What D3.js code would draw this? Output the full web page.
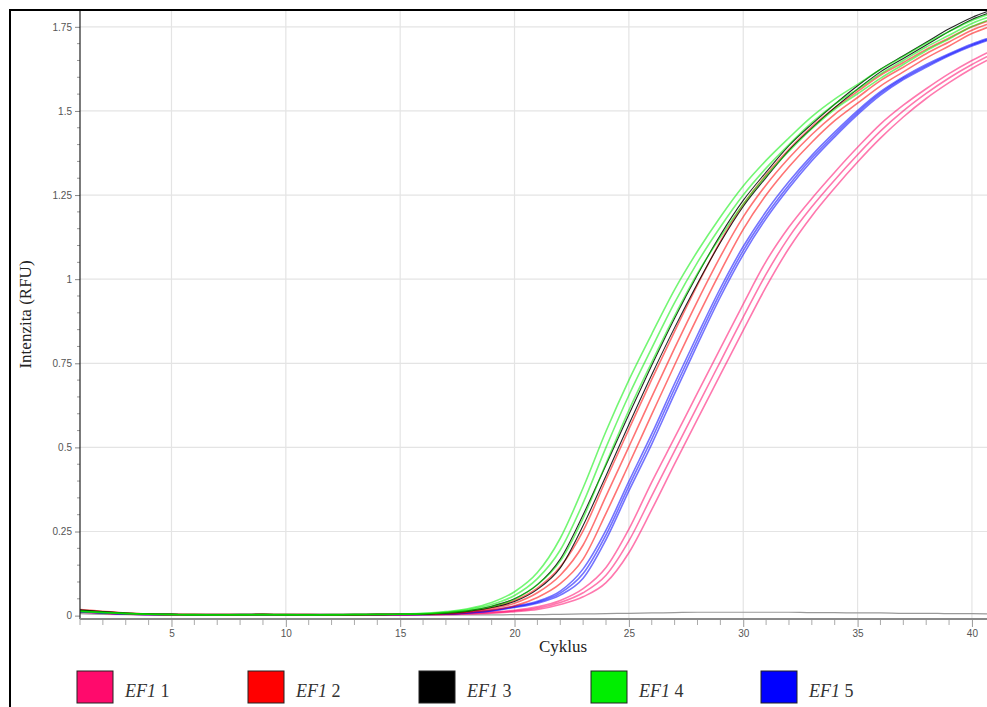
<!DOCTYPE html>
<html>
<head>
<meta charset="utf-8">
<script src="https://cdn.jsdelivr.net/npm/d3@7/dist/d3.min.js"></script>
<style>
  html, body { margin: 0; padding: 0; background: #fff; }
  svg { display: block; }
</style>
</head>
<body>
<svg id="chart" width="987" height="707"></svg>
<script>
// Amplification cycles
const cycles = [1,2,3,4,5,6,7,8,9,10,11,12,13,14,15,16,17,18,19,20,21,22,23,24,25,26,27,28,29,30,31,32,33,34,35,36,37,38,39,40,41];

// Fluorescence (RFU) per replicate, one array per well, grouped by sample
const ef1_1 = [
  [0.012,0.008,0.005,0.004,0.003,0.003,0.003,0.003,0.003,0.003,0.003,0.003,0.003,0.003,0.003,0.004,0.005,0.007,0.011,0.016,0.026,0.045,0.080,0.143,0.257,0.397,0.529,0.662,0.794,0.926,1.053,1.155,1.240,1.318,1.392,1.461,1.517,1.566,1.611,1.650,1.684],
  [0.011,0.007,0.005,0.003,0.003,0.002,0.002,0.002,0.003,0.002,0.002,0.002,0.002,0.003,0.003,0.003,0.004,0.006,0.009,0.014,0.022,0.039,0.068,0.120,0.222,0.356,0.490,0.623,0.755,0.887,1.015,1.125,1.215,1.295,1.370,1.440,1.500,1.552,1.598,1.638,1.673],
  [0.010,0.007,0.004,0.003,0.002,0.002,0.002,0.002,0.002,0.002,0.002,0.002,0.002,0.002,0.003,0.003,0.003,0.005,0.007,0.012,0.018,0.033,0.056,0.098,0.187,0.315,0.451,0.584,0.716,0.848,0.977,1.092,1.188,1.271,1.348,1.419,1.482,1.537,1.584,1.626,1.662]
];
const ef1_2 = [
  [0.018,0.013,0.008,0.005,0.004,0.003,0.003,0.003,0.004,0.003,0.003,0.003,0.003,0.004,0.004,0.005,0.009,0.014,0.025,0.045,0.082,0.145,0.252,0.404,0.554,0.702,0.845,0.983,1.112,1.222,1.310,1.386,1.453,1.509,1.558,1.606,1.644,1.683,1.717,1.750,1.774],
  [0.016,0.011,0.007,0.005,0.003,0.003,0.003,0.003,0.003,0.003,0.003,0.002,0.003,0.003,0.004,0.004,0.007,0.012,0.021,0.037,0.068,0.120,0.210,0.355,0.502,0.650,0.795,0.935,1.067,1.185,1.280,1.360,1.430,1.490,1.540,1.590,1.630,1.670,1.705,1.740,1.765],
  [0.014,0.010,0.006,0.004,0.003,0.003,0.002,0.002,0.003,0.002,0.002,0.002,0.002,0.003,0.003,0.004,0.005,0.010,0.017,0.029,0.054,0.095,0.168,0.304,0.450,0.598,0.745,0.887,1.022,1.148,1.250,1.334,1.407,1.471,1.523,1.574,1.616,1.657,1.693,1.730,1.756]
];
const ef1_3 = [
  [0.017,0.012,0.008,0.005,0.004,0.003,0.003,0.003,0.004,0.003,0.003,0.003,0.003,0.004,0.004,0.005,0.009,0.015,0.028,0.050,0.092,0.168,0.300,0.448,0.598,0.744,0.884,1.013,1.131,1.234,1.318,1.397,1.461,1.520,1.575,1.624,1.664,1.704,1.744,1.778,1.803],
  [0.015,0.011,0.007,0.005,0.004,0.003,0.003,0.003,0.003,0.003,0.003,0.003,0.003,0.003,0.004,0.005,0.007,0.013,0.024,0.042,0.078,0.142,0.268,0.416,0.568,0.716,0.856,0.987,1.109,1.216,1.302,1.383,1.449,1.510,1.565,1.616,1.656,1.696,1.736,1.772,1.797]
];
const ef1_4 = [
  [0.014,0.010,0.007,0.005,0.004,0.003,0.003,0.003,0.003,0.003,0.003,0.003,0.004,0.004,0.005,0.007,0.012,0.021,0.039,0.071,0.128,0.230,0.380,0.548,0.700,0.837,0.969,1.083,1.185,1.277,1.353,1.420,1.483,1.535,1.579,1.623,1.662,1.701,1.736,1.769,1.793],
  [0.012,0.009,0.006,0.004,0.003,0.003,0.002,0.003,0.003,0.003,0.002,0.003,0.003,0.004,0.004,0.006,0.010,0.018,0.033,0.060,0.110,0.195,0.335,0.500,0.655,0.795,0.930,1.050,1.155,1.250,1.330,1.400,1.465,1.520,1.565,1.610,1.650,1.690,1.725,1.760,1.785],
  [0.013,0.009,0.006,0.004,0.003,0.002,0.002,0.002,0.003,0.002,0.002,0.002,0.003,0.003,0.004,0.005,0.008,0.015,0.027,0.049,0.092,0.162,0.290,0.452,0.610,0.753,0.891,1.017,1.125,1.223,1.307,1.380,1.447,1.505,1.551,1.597,1.638,1.679,1.714,1.751,1.777]
];
const ef1_5 = [
  [0.013,0.009,0.006,0.004,0.003,0.003,0.003,0.003,0.003,0.003,0.003,0.003,0.003,0.003,0.004,0.004,0.006,0.010,0.016,0.028,0.043,0.073,0.139,0.254,0.399,0.540,0.690,0.834,0.973,1.097,1.201,1.290,1.368,1.437,1.501,1.557,1.601,1.638,1.670,1.699,1.723],
  [0.012,0.008,0.005,0.004,0.003,0.002,0.002,0.003,0.003,0.002,0.002,0.002,0.003,0.003,0.003,0.004,0.005,0.009,0.015,0.026,0.040,0.067,0.125,0.240,0.385,0.525,0.675,0.820,0.960,1.085,1.190,1.280,1.360,1.430,1.495,1.552,1.597,1.634,1.667,1.696,1.720],
  [0.011,0.008,0.005,0.003,0.003,0.002,0.002,0.002,0.002,0.002,0.002,0.002,0.002,0.003,0.003,0.003,0.004,0.008,0.014,0.024,0.037,0.061,0.111,0.226,0.371,0.510,0.660,0.806,0.947,1.073,1.180,1.271,1.352,1.423,1.489,1.547,1.593,1.630,1.664,1.693,1.717]
];
// No-template control
const ntc = [0.006,0.004,0.003,0.002,0.002,0.002,0.002,0.002,0.002,0.002,0.002,0.002,0.002,0.002,0.002,0.002,0.002,0.002,0.002,0.003,0.003,0.004,0.005,0.006,0.007,0.008,0.009,0.010,0.010,0.010,0.010,0.010,0.009,0.009,0.008,0.008,0.007,0.007,0.006,0.006,0.005];

const sampleNames = ["1", "2", "3", "4", "5"];
const sampleColors = ["#ff0a6c", "#ff0000", "#000000", "#00ee00", "#0000ff"];
const sampleRuns = [ef1_1, ef1_2, ef1_3, ef1_4, ef1_5];

const yTicks = [0, 0.25, 0.5, 0.75, 1, 1.25, 1.5, 1.75];
const xTicks = [5, 10, 15, 20, 25, 30, 35, 40];

(function () {
  const svg = d3.select("#chart");
  const pLeft = 80, pTop = 10, pBottom = 619;

  const x = d3.scaleLinear().domain([1, 41]).range([pLeft, pLeft + 40 * 22.87]);
  const y = d3.scaleLinear().domain([-0.01, 1.8]).range([pBottom, pTop]);
  const pRight = x(41);

  // Grid
  const grid = svg.append("g");
  grid.selectAll("line.v").data(xTicks).join("line")
    .attr("x1", d => x(d)).attr("x2", d => x(d))
    .attr("y1", pTop).attr("y2", pBottom)
    .attr("stroke", "#e4e4e4").attr("stroke-width", 1.2);
  grid.selectAll("line.h").data(yTicks.slice(1)).join("line")
    .attr("x1", pLeft).attr("x2", pRight)
    .attr("y1", d => y(d)).attr("y2", d => y(d))
    .attr("stroke", "#e4e4e4").attr("stroke-width", 1.2);

  // Curves
  const line = d3.line()
    .x((d, i) => x(cycles[i]))
    .y(d => y(d))
    .curve(d3.curveMonotoneX);

  const plot = svg.append("g");
  plot.append("path").datum(ntc)
    .attr("d", line).attr("fill", "none")
    .attr("stroke", "#9a9a9a").attr("stroke-width", 1.2);

  [0, 4, 1, 2, 3].forEach(k => {
    sampleRuns[k].forEach(run => {
      plot.append("path").datum(run)
        .attr("d", line)
        .attr("fill", "none")
        .attr("stroke", sampleColors[k])
        .attr("stroke-width", k === 2 ? 1.1 : 1.6)
        .attr("stroke-opacity", k === 2 ? 0.85 : 0.55);
    });
  });

  // Y axis
  const yAxis = svg.append("g").attr("transform", `translate(${pLeft},0)`)
    .call(d3.axisLeft(y).tickValues(yTicks).tickSize(5).tickPadding(3)
      .tickFormat(d => String(d)));
  yAxis.select(".domain").remove();
  yAxis.selectAll(".tick line").attr("stroke", "#888");
  yAxis.selectAll(".tick text")
    .attr("font-family", "Liberation Sans, Arial, sans-serif")
    .attr("font-size", 10).attr("fill", "#555");
  const yMinor = d3.range(0, 36).map(i => i * 0.05).filter(v => Math.round(v * 100) % 25 !== 0);
  svg.append("g").selectAll("line").data(yMinor).join("line")
    .attr("x1", pLeft - 3).attr("x2", pLeft)
    .attr("y1", d => y(d)).attr("y2", d => y(d))
    .attr("stroke", "#999");
  svg.append("line")
    .attr("x1", pLeft).attr("x2", pLeft).attr("y1", pTop).attr("y2", pBottom)
    .attr("stroke", "#222").attr("stroke-width", 1.2);

  // X axis
  const xAxis = svg.append("g").attr("transform", `translate(0,${pBottom})`)
    .call(d3.axisBottom(x).tickValues(xTicks).tickSize(8).tickPadding(3));
  xAxis.select(".domain").remove();
  xAxis.selectAll(".tick line").attr("stroke", "#999");
  xAxis.selectAll(".tick text")
    .attr("font-family", "Liberation Sans, Arial, sans-serif")
    .attr("font-size", 10).attr("fill", "#555");
  svg.append("g").selectAll("line").data(cycles.filter(c => c % 5 !== 0)).join("line")
    .attr("x1", d => x(d)).attr("x2", d => x(d))
    .attr("y1", pBottom).attr("y2", pBottom + 6)
    .attr("stroke", "#aaa");
  svg.append("line")
    .attr("x1", pLeft).attr("x2", pRight).attr("y1", pBottom).attr("y2", pBottom)
    .attr("stroke", "#8a8a8a").attr("stroke-width", 2);

  // Axis titles
  svg.append("text")
    .attr("x", 563).attr("y", 652)
    .attr("text-anchor", "middle")
    .attr("font-family", "Liberation Serif, Times New Roman, serif")
    .attr("font-size", 17).attr("fill", "#222")
    .text("Cyklus");
  svg.append("text")
    .attr("transform", `translate(31,${(pTop + pBottom) / 2}) rotate(-90)`)
    .attr("text-anchor", "middle")
    .attr("font-family", "Liberation Serif, Times New Roman, serif")
    .attr("font-size", 17).attr("fill", "#222")
    .text("Intenzita (RFU)");

  // Legend
  const legendX = [77, 248, 419, 591, 761];
  const legend = svg.append("g");
  sampleNames.forEach((name, i) => {
    legend.append("rect")
      .attr("x", legendX[i]).attr("y", 671)
      .attr("width", 36).attr("height", 32)
      .attr("fill", sampleColors[i])
      .attr("stroke", "#222").attr("stroke-width", 1);
    const t = legend.append("text")
      .attr("x", legendX[i] + 48).attr("y", 697)
      .attr("font-family", "Liberation Serif, Times New Roman, serif")
      .attr("font-size", 18).attr("fill", "#333");
    t.append("tspan").attr("font-style", "italic").text("EF1");
    t.append("tspan").text(" " + name);
  });

  // Outer frame
  svg.append("rect")
    .attr("x", 10).attr("y", 10)
    .attr("width", 1020).attr("height", 740)
    .attr("fill", "none").attr("stroke", "#000").attr("stroke-width", 2);
})();
</script>
</body>
</html>
